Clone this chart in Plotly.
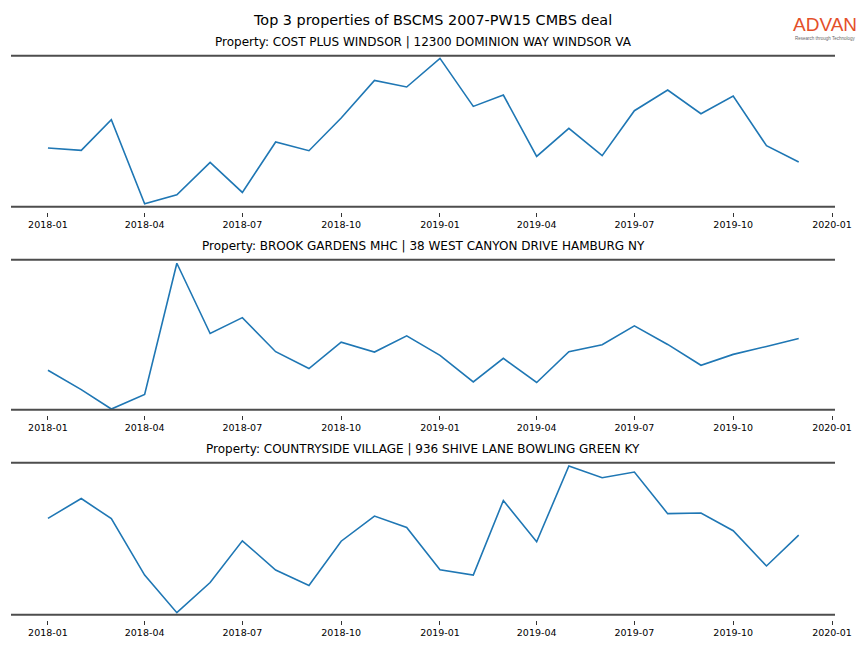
import plotly.graph_objects as go
import pandas as pd

dates = pd.date_range("2018-01-01", "2019-12-01", freq="MS")

titles = [
    "Property: COST PLUS WINDSOR | 12300 DOMINION WAY WINDSOR VA",
    "Property: BROOK GARDENS MHC | 38 WEST CANYON DRIVE HAMBURG NY",
    "Property: COUNTRYSIDE VILLAGE | 936 SHIVE LANE BOWLING GREEN KY",
]

# relative visit index (no y scale shown in the original)
cost_plus = [58.7, 56.3, 87.0, 3.0, 12.0, 44.3, 14.3, 64.7, 56.0, 88.7, 126.3, 119.7,
             148.3, 100.3, 111.7, 50.3, 78.3, 51.0, 96.0, 116.7, 93.0, 110.7, 61.0, 44.7]
brook_gardens = [39.7, 20.2, 0.7, 15.4, 147.4, 76.7, 92.7, 58.4, 41.4, 68.0, 58.0, 74.4,
                 54.7, 28.0, 51.7, 27.4, 58.4, 65.4, 84.4, 65.7, 44.7, 55.7, 63.7, 71.7]
countryside = [95.7, 115.4, 95.4, 39.4, 2.0, 32.0, 73.4, 44.4, 29.0, 73.0, 98.0, 86.7,
               44.7, 39.4, 113.4, 72.4, 147.7, 136.0, 141.7, 100.4, 101.0, 83.4, 48.4, 79.0]
series = [cost_plus, brook_gardens, countryside]

W, H = 864, 648
ml, mr = 11, 29
# pixel positions of spines (top, bottom) per panel
panels_px = [(55.7, 206.7), (259.7, 409.7), (462.7, 614.7)]
gap = 5  # pixel gap between bottom spine and tick marks

fig = go.Figure()
shapes = []
annotations = []
for i, (vals, (ptop, pbot)) in enumerate(zip(series, panels_px)):
    n = i + 1
    xa = "xaxis" if n == 1 else f"xaxis{n}"
    ya = "yaxis" if n == 1 else f"yaxis{n}"
    xr = "x" if n == 1 else f"x{n}"
    yr = "y" if n == 1 else f"y{n}"
    fig.add_trace(go.Scatter(x=dates, y=vals, mode="lines",
                             line=dict(color="#1f77b4", width=1.6),
                             xaxis=xr, yaxis=yr, showlegend=False,
                             hoverinfo="x+y"))
    dom_top = 1 - ptop / H
    dom_bot = 1 - (pbot + gap) / H
    height_px = pbot - ptop
    fig.layout[xa] = dict(
        domain=[0, 1], anchor=yr,
        range=["2017-11-27 14:00", "2020-01-03 19:00"],
        tickvals=pd.date_range("2018-01-01", "2020-01-01", freq="3MS"),
        tickformat="%Y-%m", ticks="outside", ticklen=4, tickwidth=1,
        tickcolor="#333333", showline=False, showgrid=False, zeroline=False,
        tickfont=dict(family="DejaVu Sans", size=9.5, color="#000000"),
    )
    ymin = 0.0
    ymax = 151.0
    unit = (ymax - ymin) / height_px
    fig.layout[ya] = dict(
        domain=[dom_bot, dom_top], anchor=xr,
        range=[ymin - gap * unit, ymax],
        showticklabels=False, ticks="", showgrid=False, zeroline=False, showline=False,
    )
    for yv in (1, 0):
        shapes.append(dict(type="line", xref=f"{xr} domain", yref=f"{yr} domain",
                           x0=0, x1=1,
                           ysizemode="pixel", yanchor=yv,
                           y0=(0 if yv == 1 else gap), y1=(0 if yv == 1 else gap),
                           line=dict(color="#4d4d4d", width=2)))
    annotations.append(dict(text=titles[i], xref="paper", yref="paper",
                            x=0.5, y=1 - (ptop - 4.5) / H, xanchor="center", yanchor="bottom",
                            showarrow=False,
                            font=dict(family="DejaVu Sans", size=12, color="#000000")))

annotations.append(dict(text="Top 3 properties of BSCMS 2007-PW15 CMBS deal",
                        xref="paper", yref="paper", x=(432 - ml) / (W - ml - mr),
                        y=1 - 29.5 / H, xanchor="center", yanchor="bottom", showarrow=False,
                        font=dict(family="DejaVu Sans", size=14.4, color="#000000")))
annotations.append(dict(text="ADVAN", xref="paper", yref="paper",
                        x=(824.5 - ml) / (W - ml - mr), y=1 - 37.5 / H,
                        xanchor="center", yanchor="bottom", showarrow=False,
                        font=dict(family="Liberation Sans", size=19, color="#e4502a")))
annotations.append(dict(text="Research through Technology", xref="paper", yref="paper",
                        x=(824.5 - ml) / (W - ml - mr), y=1 - 43 / H,
                        xanchor="center", yanchor="bottom", showarrow=False,
                        font=dict(family="Liberation Sans", size=4.5, color="#666666")))

fig.update_layout(
    width=W, height=H,
    margin=dict(l=ml, r=mr, t=0, b=0),
    paper_bgcolor="white", plot_bgcolor="white",
    shapes=shapes, annotations=annotations,
    showlegend=False,
)

fig.write_html("out.html", config={"displayModeBar": False},
               post_script="document.body.style.margin='0';document.body.style.padding='0';")
